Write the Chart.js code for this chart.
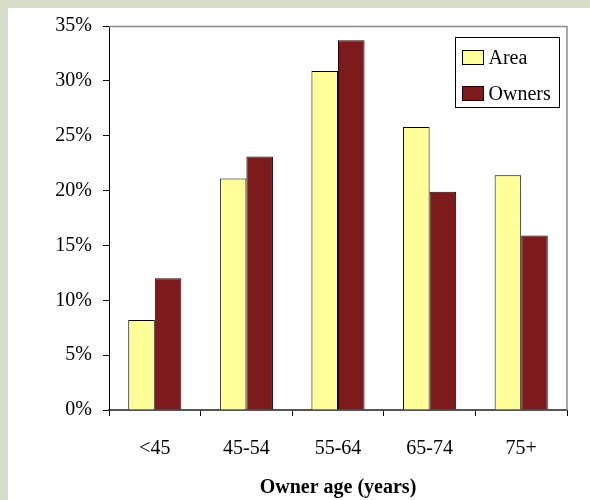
<!DOCTYPE html>
<html><head><meta charset="utf-8">
<script src="https://cdn.jsdelivr.net/npm/chart.js@4"></script>
<style>
html,body{margin:0;padding:0;}
body{width:590px;height:500px;background:#d6dec9;position:relative;overflow:hidden;}
#wrap{position:absolute;left:8px;top:8px;width:582px;height:492px;background:#fff;}
canvas{display:block;}
</style></head><body>
<div id="wrap"><canvas id="c" width="582" height="492"></canvas></div>
<script>
const categories = ['<45', '45-54', '55-64', '65-74', '75+'];
const areaValues = [8.2, 21.1, 30.9, 25.8, 21.4];
const ownerValues = [12.0, 23.1, 33.7, 19.9, 15.9];
const yTicks = [0, 5, 10, 15, 20, 25, 30, 35];
const seriesNames = ['Area', 'Owners'];
const xTitle = 'Owner age (years)';

const FONT = 'Liberation Serif, Times New Roman, serif';

const frame = {
  id: 'frame',
  beforeDatasetsDraw(chart) {
    const {ctx, chartArea: a} = chart;
    ctx.save();
    ctx.strokeStyle = '#8a8a8a';
    ctx.lineWidth = 1.5;
    ctx.beginPath();
    ctx.moveTo(a.left, a.top + 0.5);
    ctx.lineTo(a.right, a.top + 0.5);
    ctx.lineTo(a.right, a.bottom);
    ctx.stroke();
    ctx.restore();
  }
};

const boxLegend = {
  id: 'boxLegend',
  afterDraw(chart) {
    const {ctx, chartArea: a} = chart;
    const w = 104, h = 70;
    const x0 = Math.round(a.right - 8 - w) + 0.5;
    const y0 = Math.round(a.top + 11) + 0.5;
    ctx.save();
    ctx.fillStyle = '#fff';
    ctx.fillRect(x0, y0, w, h);
    ctx.strokeStyle = '#000';
    ctx.lineWidth = 1;
    ctx.strokeRect(x0, y0, w, h);
    ctx.font = '20px ' + FONT;
    ctx.textBaseline = 'middle';
    chart.data.datasets.forEach((ds, i) => {
      const cy = y0 + 20 + i * 36;
      ctx.fillStyle = ds.backgroundColor;
      ctx.fillRect(x0 + 7, cy - 7, 21, 14);
      ctx.strokeStyle = ds.borderColor;
      ctx.strokeRect(x0 + 7, cy - 7, 21, 14);
      ctx.fillStyle = '#000';
      ctx.fillText(ds.label, x0 + 33, cy + 1);
    });
    ctx.restore();
  }
};

new Chart(document.getElementById('c'), {
  type: 'bar',
  data: {
    labels: categories,
    datasets: [
      {label: seriesNames[0], data: areaValues, backgroundColor: '#ffff99', borderColor: '#000', borderWidth: 1},
      {label: seriesNames[1], data: ownerValues, backgroundColor: '#7d1a1c', borderColor: '#200404', borderWidth: 1}
    ]
  },
  options: {
    responsive: false,
    animation: false,
    devicePixelRatio: 1,
    layout: {padding: {top: 18, right: 23, bottom: 0, left: 0}},
    datasets: {bar: {categoryPercentage: 0.58, barPercentage: 1.0}},
    plugins: {legend: {display: false}, tooltip: {enabled: false}},
    scales: {
      x: {
        offset: true,
        grid: {display: true, drawOnChartArea: false, offset: true, tickLength: 6, color: '#000'},
        border: {display: true, color: '#555', width: 2},
        ticks: {color: '#000', font: {family: FONT, size: 20}, padding: 21},
        title: {display: true, text: xTitle, color: '#000', font: {family: FONT, size: 20, weight: 'bold'}, padding: {top: 0, bottom: 0}},
        afterFit(s) { s.height = 90; }
      },
      y: {
        min: 0, max: 35,
        afterBuildTicks(s) { s.ticks = yTicks.map(v => ({value: v})); },
        grid: {display: true, drawOnChartArea: false, tickLength: 6, color: '#000'},
        border: {display: true, color: '#000', width: 1},
        ticks: {color: '#000', font: {family: FONT, size: 20}, padding: 11, callback: v => v + '%'},
        afterFit(s) { s.width = 101; s.paddingTop = 0; s.paddingBottom = 0; }
      }
    }
  },
  plugins: [frame, boxLegend]
});
</script>
</body></html>
